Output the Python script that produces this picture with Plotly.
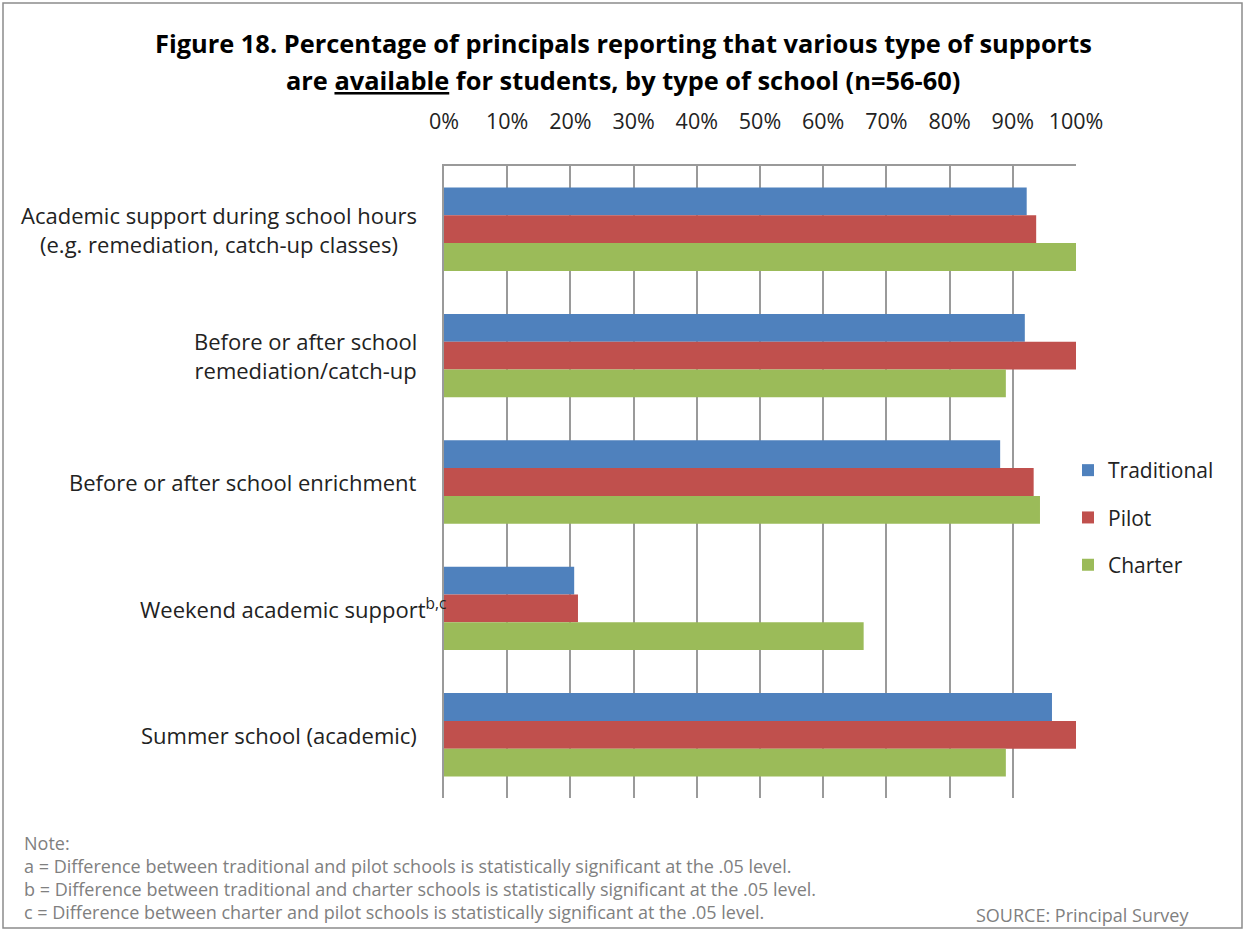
import plotly.graph_objects as go

categories = [
    "Academic support during school hours<br>(e.g. remediation, catch-up classes)",
    "Before or after school<br>remediation/catch-up",
    "Before or after school enrichment",
    "Weekend academic support<sup>b,c</sup>",
    "Summer school (academic)",
]
traditional = [92.2, 91.9, 88.0, 20.6, 96.2]
pilot = [93.7, 100.0, 93.3, 21.2, 100.0]
charter = [100.0, 88.9, 94.3, 66.4, 88.9]
tick_vals = [0, 10, 20, 30, 40, 50, 60, 70, 80, 90, 100]
tick_text = [f"{v}%" for v in tick_vals]
series = [("Traditional", traditional, "#4F81BD"),
          ("Pilot", pilot, "#C0504D"),
          ("Charter", charter, "#9BBB59")]
notes = [
    "Note:",
    "a = Difference between traditional and pilot schools is statistically significant at the .05 level.",
    "b = Difference between traditional and charter schools is statistically significant at the .05 level.",
    "c = Difference between charter and pilot schools is statistically significant at the .05 level.",
]

W, H = 1246, 932
FONT = "Open Sans, Liberation Sans, sans-serif"

fig = go.Figure()
for i, (name, vals, col) in enumerate(series):
    fig.add_trace(go.Bar(
        y=categories, x=vals, name=name, orientation="h",
        marker=dict(color=col, line=dict(width=0)),
        legendgroup=f"g{i}",
    ))

def px(x):
    return x / W

def py(y):
    return 1 - y / H

fig.update_layout(
    width=W, height=H,
    margin=dict(l=0, r=0, t=0, b=0, autoexpand=False),
    paper_bgcolor="white", plot_bgcolor="white",
    barmode="group", bargap=0.34, bargroupgap=0,
    font=dict(family=FONT, size=21, color="#222222"),
    xaxis=dict(
        domain=[px(444), px(1076)], range=[0, 100], side="top",
        tickvals=tick_vals, ticktext=tick_text,
        showgrid=True, gridcolor="#9a9a9a", gridwidth=1.5,
        zeroline=False, showline=True, linecolor="#9a9a9a", linewidth=1.5,
        ticks="", ticklabelstandoff=27,
        tickfont=dict(family=FONT, size=21.5, color="#222222"),
        fixedrange=True,
    ),
    yaxis=dict(
        domain=[py(798), py(166)], autorange="reversed",
        showticklabels=False, showgrid=False, zeroline=False,
        showline=True, linecolor="#9a9a9a", linewidth=1.5, ticks="",
    ),
    legend=dict(
        x=px(1068), y=py(450), xanchor="left", yanchor="top",
        font=dict(family=FONT, size=21, color="#222222"),
        traceorder="grouped", tracegroupgap=17,
        bgcolor="rgba(0,0,0,0)", itemwidth=30,
    ),
    showlegend=True,
)

# category labels (centered lines, right anchored)
for j, cat in enumerate(categories):
    xr = 448 if "<sup>" in cat else 419
    fig.add_annotation(
        x=px(xr), xref="paper", y=cat, yref="y",
        text=cat, showarrow=False, xanchor="right", yanchor="middle",
        align="center", font=dict(family=FONT, size=22, color="#222222"),
    )

# title
TFONT = "Open Sans, sans-serif"
fig.add_annotation(
    x=0.5, y=py(43), xref="paper", yref="paper", showarrow=False,
    text="<b>Figure 18. Percentage of principals reporting that various type of supports</b>",
    font=dict(family=TFONT, size=25.4, color="#000000"),
    xanchor="center", yanchor="middle",
)
fig.add_annotation(
    x=0.5, y=py(80), xref="paper", yref="paper", showarrow=False,
    text="<b>are <u>available</u> for students, by type of school (n=56-60)</b>",
    font=dict(family=TFONT, size=25.4, color="#000000"),
    xanchor="center", yanchor="middle",
)

# notes
NFONT = "Open Sans, sans-serif"
for k, (t, yy) in enumerate(zip(notes, [843, 866, 889, 912])):
    fig.add_annotation(
        x=px(22), y=py(yy), xref="paper", yref="paper", showarrow=False,
        text=t, xanchor="left", yanchor="middle",
        font=dict(family=NFONT, size=18, color="#808080"),
    )
fig.add_annotation(
    x=px(1191), y=py(915), xref="paper", yref="paper", showarrow=False,
    text="SOURCE: Principal Survey", xanchor="right", yanchor="middle",
    font=dict(family=NFONT, size=18, color="#808080"),
)

# frame
fig.add_shape(type="rect", xref="paper", yref="paper",
              x0=px(3), x1=px(1242), y0=py(928), y1=py(3),
              line=dict(color="#8c8c8c", width=1.5))

fig.write_html(
    "out.html",
    config={"displayModeBar": False},
    post_script="document.body.style.margin='0';document.body.style.padding='0';document.body.style.overflow='hidden';",
)
